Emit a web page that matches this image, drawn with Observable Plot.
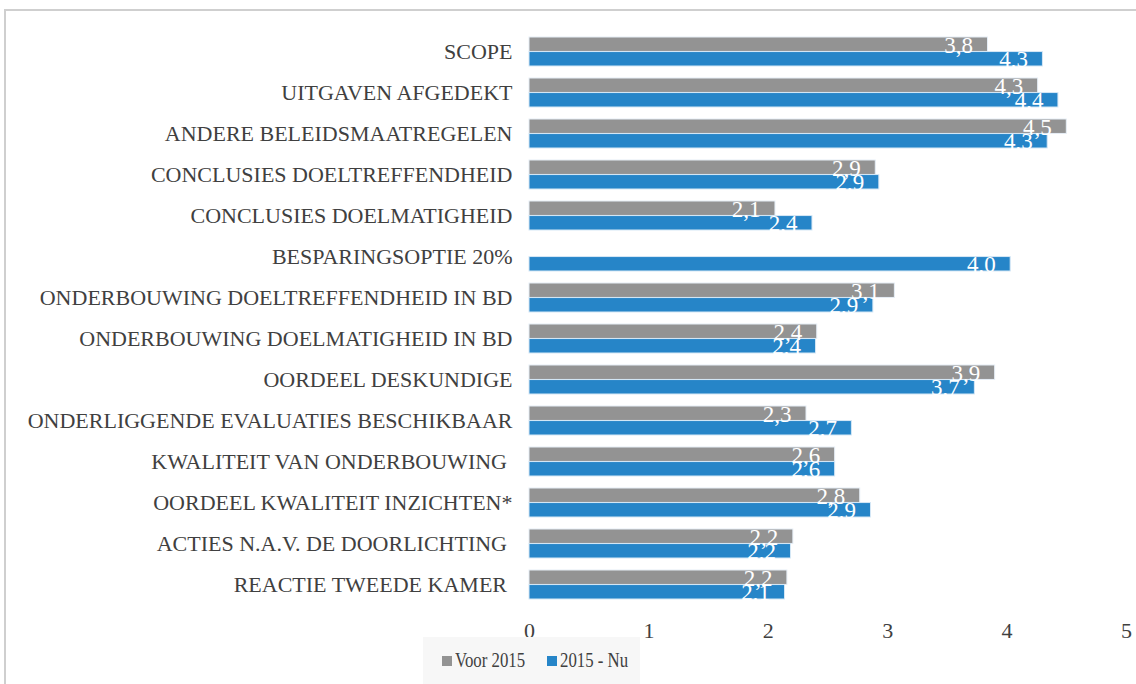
<!DOCTYPE html>
<html>
<head>
<meta charset="utf-8">
<script src="https://cdn.jsdelivr.net/npm/d3@7"></script>
<script src="https://cdn.jsdelivr.net/npm/@observablehq/plot@0.6"></script>
<style>
  html, body { margin: 0; padding: 0; background: white; }
  #wrap { position: relative; width: 1136px; height: 684px; overflow: hidden; font-family: "Liberation Serif", serif; }
  #frame { position: absolute; left: 4px; top: 9px; width: 1200px; height: 800px; border-top: 2px solid #cfcfcf; border-left: 2px solid #cfcfcf; pointer-events: none; }
  #legend { position: relative; margin-left: 423px; margin-top: -14px; width: 217px; height: 47px; background: #f7f7f7; font-size: 21px; color: #404040; white-space: nowrap; }
  .sw { position: absolute; top: 19px; width: 10px; height: 10px; }
  .lt { position: absolute; top: 10px; line-height: 26px; transform: scaleX(0.8); transform-origin: left center; }
</style>
</head>
<body>
<div id="wrap">
  <div id="chart"></div>
  <div id="legend"></div>
  <div id="frame"></div>
</div>
<script>
const categories = [
  "SCOPE",
  "UITGAVEN AFGEDEKT",
  "ANDERE BELEIDSMAATREGELEN",
  "CONCLUSIES DOELTREFFENDHEID",
  "CONCLUSIES DOELMATIGHEID",
  "BESPARINGSOPTIE 20%",
  "ONDERBOUWING DOELTREFFENDHEID IN BD",
  "ONDERBOUWING DOELMATIGHEID IN BD",
  "OORDEEL DESKUNDIGE",
  "ONDERLIGGENDE EVALUATIES BESCHIKBAAR",
  "KWALITEIT VAN ONDERBOUWING\u00a0",
  "OORDEEL KWALITEIT INZICHTEN*",
  "ACTIES N.A.V. DE DOORLICHTING\u00a0",
  "REACTIE TWEEDE KAMER\u00a0"
];
const voor2015 = [3.84, 4.26, 4.50, 2.90, 2.06, 0, 3.06, 2.41, 3.90, 2.32, 2.56, 2.77, 2.21, 2.16];
const sinds2015 = [4.30, 4.43, 4.34, 2.93, 2.37, 4.03, 2.88, 2.40, 3.73, 2.70, 2.56, 2.86, 2.19, 2.14];
const seriesNames = ["Voor 2015", "2015 - Nu"];
const seriesColors = ["#939393", "#2685c8"];
const xTicks = [0, 1, 2, 3, 4, 5];

const rows = categories.map((c, i) => ({cat: c, voor: voor2015[i], nu: sinds2015[i]}));
const fmt = v => d3.format(".1f")(v).replace(".", ",");

const W = 1136, H = 651, mTop = 25, mBottom = 40, pad = 0.29;
const step = (H - mTop - mBottom) / (categories.length + pad);
const bw = step * (1 - pad);
const half = bw / 2;

const chart = Plot.plot({
  width: W, height: H,
  marginLeft: 529, marginRight: 10, marginTop: mTop, marginBottom: mBottom,
  style: {fontFamily: "Liberation Serif", fontSize: "22px", color: "#404040", background: "white"},
  x: {domain: [0, 5], ticks: xTicks, label: null, tickSize: 0, tickPadding: 11, tickFormat: d => String(d)},
  y: {domain: categories, padding: pad, label: null, tickSize: 0, tickPadding: 17},
  marks: [
    Plot.barX(rows, {x: "voor", y: "cat", fill: seriesColors[0], insetBottom: half, stroke: "#e6eef6", strokeWidth: 1}),
    Plot.barX(rows, {x: "nu", y: "cat", fill: seriesColors[1], insetTop: half, stroke: "#d6e8f6", strokeWidth: 1}),
    Plot.text(rows.filter(d => d.voor > 0), {x: "voor", y: "cat", text: d => fmt(d.voor), textAnchor: "end", dx: -15, dy: -6, fill: "white", fontSize: 23}),
    Plot.text(rows.filter(d => d.nu > 0), {x: "nu", y: "cat", text: d => fmt(d.nu), textAnchor: "end", dx: -15, dy: 8, fill: "white", fontSize: 23})
  ]
});
document.getElementById("chart").appendChild(chart);

const legend = document.getElementById("legend");
const swLeft = [19, 124];
seriesNames.forEach((name, i) => {
  const sw = document.createElement("span");
  sw.className = "sw";
  sw.style.left = swLeft[i] + "px";
  sw.style.background = seriesColors[i];
  const t = document.createElement("span");
  t.className = "lt";
  t.style.left = (swLeft[i] + 13) + "px";
  t.textContent = name;
  legend.appendChild(sw);
  legend.appendChild(t);
});
</script>
</body>
</html>
